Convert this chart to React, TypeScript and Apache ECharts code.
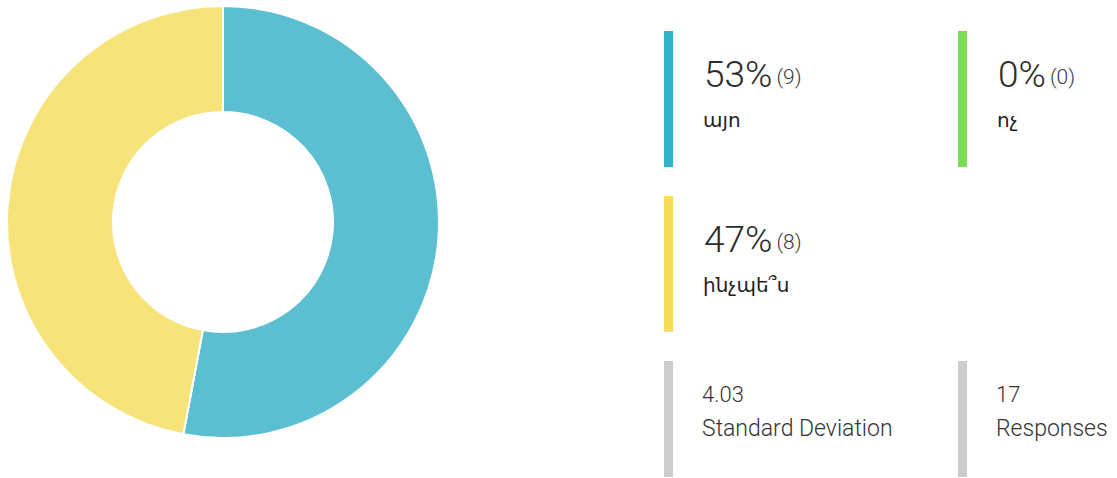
import React, { useEffect, useRef } from "react";
import * as echarts from "echarts";

const categories = ["այո", "ոչ", "ինչպե՞ս"];
const counts = [9, 0, 8];
const sliceColors = ["#5bbfd1", "#7ed957", "#f6e37a"];
const barColors = ["#34b2c7", "#7edc52", "#f6dc5b"];
const statValues = ["4.03", "17"];
const statLabels = ["Standard Deviation", "Responses"];

const FONT = "Roboto, 'DejaVu Sans', 'Noto Sans', sans-serif";

export default function App() {
  const ref = useRef<HTMLDivElement>(null);
  useEffect(() => {
    if (!ref.current) return;
    const chart = echarts.init(ref.current, null, { renderer: "svg" });
    const total = counts.reduce((a, b) => a + b, 0);
    const colX = [664, 958];
    const rowY = [31, 196, 361];
    const graphics: any[] = [];
    categories.forEach((cat, i) => {
      const col = i % 2;
      const row = Math.floor(i / 2);
      const x = colX[col];
      const y = rowY[row];
      const pct = Math.round((counts[i] / total) * 100);
      graphics.push({
        type: "rect",
        shape: { x, y, width: 9, height: 136 },
        style: { fill: barColors[i] },
        silent: true,
      });
      graphics.push({
        type: "text",
        x: x + 40,
        y: y + 43,
        style: {
          text: `{a|${pct}%}{b|(${counts[i]})}`,
          verticalAlign: "middle",
          rich: {
            a: { fontSize: 37, fontWeight: 300, fontFamily: FONT, fill: "#2b2b2b", verticalAlign: "middle" },
            b: { fontSize: 21, fontWeight: 300, fontFamily: FONT, fill: "#3a3a3a", padding: [5, 0, 0, 4], verticalAlign: "middle" },
          },
        },
        silent: true,
      });
      graphics.push({
        type: "text",
        x: x + 39,
        y: y + 89,
        style: {
          text: cat,
          fontSize: 20,
          fontFamily: FONT,
          fill: "#1e1e1e",
          verticalAlign: "middle",
        },
        silent: true,
      });
    });
    statValues.forEach((v, i) => {
      const x = colX[i];
      const y = rowY[2];
      graphics.push({
        type: "rect",
        shape: { x, y, width: 9, height: 116 },
        style: { fill: "#cccccc" },
        silent: true,
      });
      graphics.push({
        type: "text",
        x: x + 38,
        y: y + 33,
        style: { text: v, fontSize: 22, fontWeight: 300, fontFamily: FONT, fill: "#333", verticalAlign: "middle" },
        silent: true,
      });
      graphics.push({
        type: "text",
        x: x + 38,
        y: y + 67,
        style: { text: statLabels[i], fontSize: 23, fontWeight: 300, fontFamily: FONT, fill: "#333", verticalAlign: "middle" },
        silent: true,
      });
    });

    chart.setOption({
      animation: false,
      series: [
        {
          type: "pie",
          center: [223, 222],
          radius: [110, 216],
          startAngle: 90,
          clockwise: true,
          silent: true,
          label: { show: false },
          labelLine: { show: false },
          emphasis: { disabled: true },
          itemStyle: { borderColor: "#ffffff", borderWidth: 2 },
          data: categories.map((c, i) => ({
            name: c,
            value: counts[i],
            itemStyle: { color: sliceColors[i] },
          })),
        },
      ],
      graphic: graphics,
    });
    return () => chart.dispose();
  }, []);
  return (
    <div
      ref={ref}
      style={{ position: "fixed", left: 0, top: 0, width: 1117, height: 478, background: "#fff" }}
    />
  );
}
